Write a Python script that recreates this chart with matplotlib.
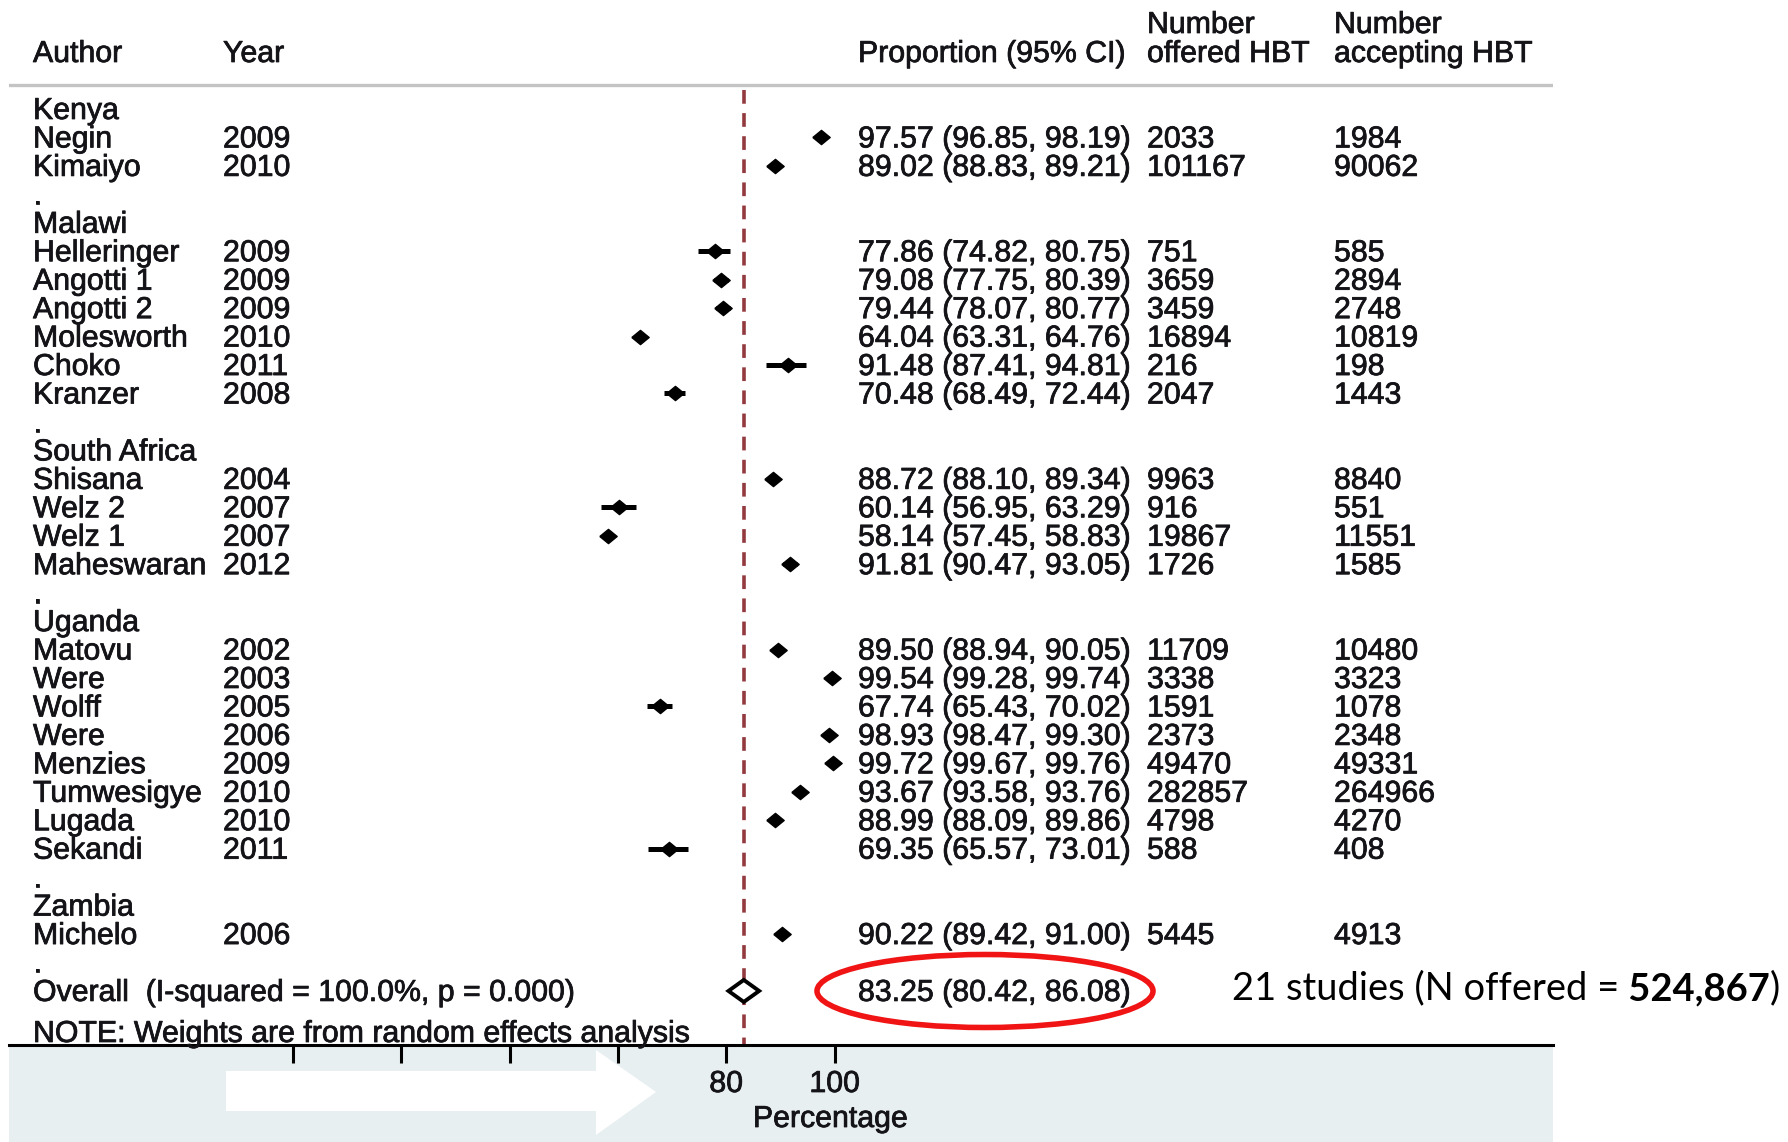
import matplotlib
matplotlib.use("Agg")
import matplotlib.pyplot as plt
import matplotlib.patheffects as pe
from matplotlib.transforms import blended_transform_factory
from matplotlib.patches import Polygon, Rectangle, Ellipse

plt.rcParams['font.family'] = ['Liberation Sans', 'DejaVu Sans']

# ---------------- data ----------------
countries = ["Kenya", "Malawi", "South Africa", "Uganda", "Zambia"]
study_country = ["Kenya", "Kenya",
                 "Malawi", "Malawi", "Malawi", "Malawi", "Malawi", "Malawi",
                 "South Africa", "South Africa", "South Africa", "South Africa",
                 "Uganda", "Uganda", "Uganda", "Uganda", "Uganda", "Uganda", "Uganda", "Uganda",
                 "Zambia"]
authors = ["Negin", "Kimaiyo",
           "Helleringer", "Angotti 1", "Angotti 2", "Molesworth", "Choko", "Kranzer",
           "Shisana", "Welz 2", "Welz 1", "Maheswaran",
           "Matovu", "Were", "Wolff", "Were", "Menzies", "Tumwesigye", "Lugada", "Sekandi",
           "Michelo"]
years = [2009, 2010,
         2009, 2009, 2009, 2010, 2011, 2008,
         2004, 2007, 2007, 2012,
         2002, 2003, 2005, 2006, 2009, 2010, 2010, 2011,
         2006]
est = [97.57, 89.02,
       77.86, 79.08, 79.44, 64.04, 91.48, 70.48,
       88.72, 60.14, 58.14, 91.81,
       89.50, 99.54, 67.74, 98.93, 99.72, 93.67, 88.99, 69.35,
       90.22]
ci_lo = [96.85, 88.83,
         74.82, 77.75, 78.07, 63.31, 87.41, 68.49,
         88.10, 56.95, 57.45, 90.47,
         88.94, 99.28, 65.43, 98.47, 99.67, 93.58, 88.09, 65.57,
         89.42]
ci_hi = [98.19, 89.21,
         80.75, 80.39, 80.77, 64.76, 94.81, 72.44,
         89.34, 63.29, 58.83, 93.05,
         90.05, 99.74, 70.02, 99.30, 99.76, 93.76, 89.86, 73.01,
         91.00]
n_offered = [2033, 101167,
             751, 3659, 3459, 16894, 216, 2047,
             9963, 916, 19867, 1726,
             11709, 3338, 1591, 2373, 49470, 282857, 4798, 588,
             5445]
n_accepting = [1984, 90062,
               585, 2894, 2748, 10819, 198, 1443,
               8840, 551, 11551, 1585,
               10480, 3323, 1078, 2348, 49331, 264966, 4270, 408,
               4913]
overall_est, overall_lo, overall_hi = 83.25, 80.42, 86.08
overall_label = "Overall  (I-squared = 100.0%, p = 0.000)"
note_label = "NOTE: Weights are from random effects analysis"
x_ticks = [0, 20, 40, 60, 80, 100]
x_ticklabels = ["", "", "", "", "80", "100"]  # first four are hidden under the white arrow
x_label = "Percentage"
headers_top = ["Number", "Number"]
headers = ["Author", "Year", "Proportion (95% CI)", "offered HBT", "accepting HBT"]
summary_pre = "21 studies (N offered ="
summary_bold = " 524,867"
summary_post = ")"

# ---------------- layout (pixels) ----------------
W, H = 1788, 1142
X0_PX, PX_PER_UNIT = 293.0, 5.415
R0_PX, PX_PER_ROW = 109.0, 28.45
AX_L, AX_R, AX_B = 9, 1553, 1045
FS = 21.8
TXT = '#141418'
DY = 0.07  # small text baseline adjustment (rows)
EFF = [pe.withStroke(linewidth=0.55, foreground=TXT)]

fig = plt.figure(figsize=(W / 100, H / 100), dpi=100)
ax = fig.add_axes([AX_L / W, 1 - AX_B / H, (AX_R - AX_L) / W, AX_B / H])
ax.set_xlim((AX_L - X0_PX) / PX_PER_UNIT, (AX_R - X0_PX) / PX_PER_UNIT)
ax.set_ylim((AX_B - R0_PX) / PX_PER_ROW, (0 - R0_PX) / PX_PER_ROW)
ax.patch.set_alpha(0)

def row_of(py):
    return (py - R0_PX) / PX_PER_ROW

def colx(px):
    return (px - AX_L) / (AX_R - AX_L)

tr = blended_transform_factory(ax.transAxes, ax.transData)
COL_AUTHOR, COL_YEAR, COL_PROP, COL_OFF, COL_ACC = 33, 223, 858, 1147, 1334

def put(px, rr, s):
    ax.text(colx(px), rr + DY, s, transform=tr, fontsize=FS, color=TXT, va='center',
            path_effects=EFF)

# row assignment
rows = [0] * len(authors)
header_rows = {}
dot_rows = []
r = 0
for c in countries:
    header_rows[c] = r
    r += 1
    for i, sc in enumerate(study_country):
        if sc == c:
            rows[i] = r
            r += 1
    dot_rows.append(r)
    r += 1
overall_row = r

# header
hy_top, hy = row_of(23), row_of(52)
put(COL_OFF, hy_top, headers_top[0])
put(COL_ACC, hy_top, headers_top[1])
for h, cx in zip(headers, [COL_AUTHOR, COL_YEAR, COL_PROP, COL_OFF, COL_ACC]):
    put(cx, hy, h)
ax.axhline(row_of(85), color='#c4c4c4', lw=2.4, zorder=1)

# group labels and separators
for c, rr in header_rows.items():
    put(COL_AUTHOR, rr, c)
for rr in dot_rows:
    put(COL_AUTHOR, rr, ".")

# studies
for i in range(len(authors)):
    rr = rows[i]
    put(COL_AUTHOR, rr, authors[i])
    put(COL_YEAR, rr, str(years[i]))
    put(COL_PROP, rr, f"{est[i]:.2f} ({ci_lo[i]:.2f}, {ci_hi[i]:.2f})")
    put(COL_OFF, rr, str(n_offered[i]))
    put(COL_ACC, rr, str(n_accepting[i]))

ax.hlines(rows, ci_lo, ci_hi, color='black', lw=3.6, zorder=3)
diamond = [(-1, 0), (0, 0.82), (1, 0), (0, -0.82), (-1, 0)]
ax.plot(est, rows, linestyle='none', marker=diamond, ms=12.5, color='black', zorder=4)

# overall
ax.vlines(overall_est, row_of(90), row_of(AX_B), color='#933a3f', lw=2.6,
          linestyles=(0, (3.8, 2.6)), zorder=2)
hh = 11 / PX_PER_ROW
ax.add_patch(Polygon([(overall_lo, overall_row), (overall_est, overall_row - hh),
                      (overall_hi, overall_row), (overall_est, overall_row + hh)],
                     closed=True, facecolor='white', edgecolor='black', lw=2.8, zorder=5))
put(COL_AUTHOR, overall_row, overall_label)
put(COL_PROP, overall_row, f"{overall_est:.2f} ({overall_lo:.2f}, {overall_hi:.2f})")
put(COL_AUTHOR, row_of(1032), note_label)

# axis
for s in ['top', 'left', 'right']:
    ax.spines[s].set_visible(False)
ax.spines['bottom'].set_linewidth(2.2)
ax.spines['bottom'].set_color('black')
ax.set_yticks([])
ax.set_xticks(x_ticks)
ax.set_xticklabels(x_ticklabels)
ax.tick_params(axis='x', direction='out', length=13, width=2.2, pad=5, labelsize=FS, labelcolor=TXT)
for lab in ax.get_xticklabels():
    lab.set_path_effects(EFF)
ax.set_xlabel(x_label, fontsize=FS, color=TXT, path_effects=EFF)
ax.xaxis.set_label_coords(99.2, -(1119 - AX_B) / AX_B,
                          transform=blended_transform_factory(ax.transData, ax.transAxes))
ax.xaxis.label.set_va('center')

# grey band behind axis
fig.add_artist(Rectangle((AX_L / W, 0), (AX_R - AX_L) / W, 1 - AX_B / H,
                         transform=fig.transFigure, facecolor='#e8eff1', edgecolor='none', zorder=-1))

# white arrow overlay
def fp(px, py):
    return (px / W, 1 - py / H)
arrow_pts = [fp(226, 1071), fp(596, 1071), fp(596, 1050), fp(656, 1092),
             fp(596, 1135), fp(596, 1111), fp(226, 1111)]
fig.add_artist(Polygon(arrow_pts, closed=True, transform=fig.transFigure,
                       facecolor='white', edgecolor='none', zorder=5))

# red ellipse
fig.add_artist(Ellipse(fp(985, 991), 336 / W, 73 / H, transform=fig.transFigure,
                       facecolor='none', edgecolor='#f01414', lw=4.0, zorder=6))

# summary text
sy = row_of(988)
t1 = ax.text(colx(1232), sy, summary_pre, transform=tr, fontsize=26, family='Lato',
             color='black', va='center', ha='left')
t2 = ax.annotate(summary_bold, xy=(1, 0), xycoords=t1, fontsize=26, family='Lato',
                 fontweight='bold', color='black', va='bottom', ha='left')
t3 = ax.annotate(summary_post, xy=(1, 0), xycoords=t2, fontsize=26, family='Lato',
                 color='black', va='bottom', ha='left')
fig.canvas.draw()
rend = fig.canvas.get_renderer()
w = t3.get_window_extent(rend).x1 - t1.get_window_extent(rend).x0
scale = (1780 - 1232) / w
for t in (t1, t2, t3):
    t.set_fontsize(26 * scale)

fig.savefig("out.png", dpi=100)
